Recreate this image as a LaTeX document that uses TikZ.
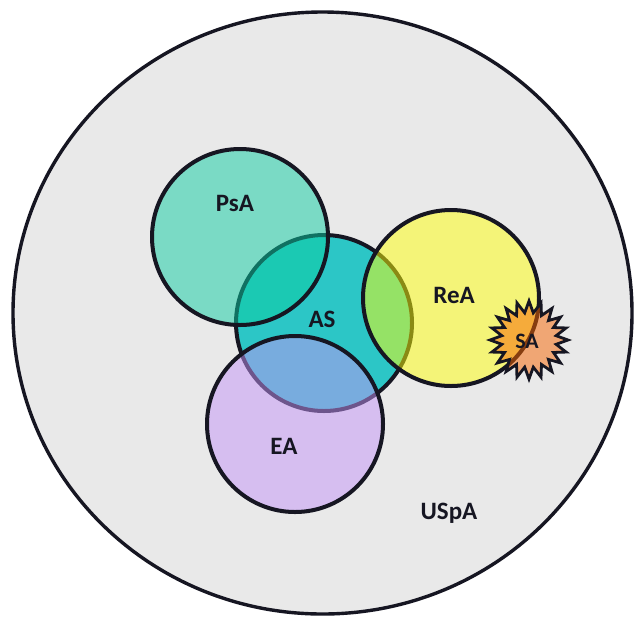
\documentclass[tikz,border=0pt]{standalone}
\usepackage{fontspec}
\setmainfont{Carlito}
\usetikzlibrary{shapes.geometric}

\definecolor{bggray}{RGB}{233,233,233}
\definecolor{asteal}{RGB}{44,198,198}
\definecolor{psamint}{RGB}{12,205,162}
\definecolor{reayellow}{RGB}{255,255,8}
\definecolor{ealilac}{RGB}{197,148,247}
\definecolor{saorange}{RGB}{247,100,0}
\definecolor{inkdark}{RGB}{22,22,34}

\tikzset{
  ring/.style={circle, draw=inkdark, line width=4pt, inner sep=0pt, minimum size=176pt},
  setfill/.style={ring, fill=#1, fill opacity=0.5},
  lbl/.style={font=\bfseries\fontsize{25}{25}\selectfont, text=inkdark, inner sep=0pt},
}

\begin{document}
\begin{tikzpicture}[x=1pt, y=-1pt]
  \useasboundingbox (0,0) rectangle (636,619);
  \fill[white] (0,0) rectangle (636,619);

  % universe
  \node[ellipse, draw=inkdark, line width=3.4pt, fill=bggray, inner sep=0pt,
        minimum width=619pt, minimum height=602pt] (U) at (322.5,313) {};

  % core set, then the overlapping sets laid over it
  \node[ring, fill=asteal] (AScirc) at (324,323) {};
  \node[setfill=psamint]   (PsAcirc) at (240,237) {};
  \node[setfill=reayellow] (ReAcirc) at (451,298) {};
  \node[setfill=ealilac]   (EAcirc) at (295,424) {};

  % small star on the rim of ReA
  \node[star, star points=20, star point ratio=1.42, minimum size=78pt, inner sep=0pt,
        draw=inkdark, line width=2.8pt, fill=saorange, fill opacity=0.5] (SAstar) at (529,340) {};

  % labels
  \node[lbl] (PsA) at (235,203) {PsA};
  \node[lbl] (AS) at (322,319) {AS};
  \node[lbl] (ReA) at (454,295) {ReA};
  \node[lbl] (EA) at (284,446) {EA};
  \node[lbl] (USpA) at (449,513) {USpA};
  \node[font=\bfseries\fontsize{22}{22}\selectfont, text=inkdark, inner sep=0pt] (SA) at (527,341) {SA};
\end{tikzpicture}
\end{document}
